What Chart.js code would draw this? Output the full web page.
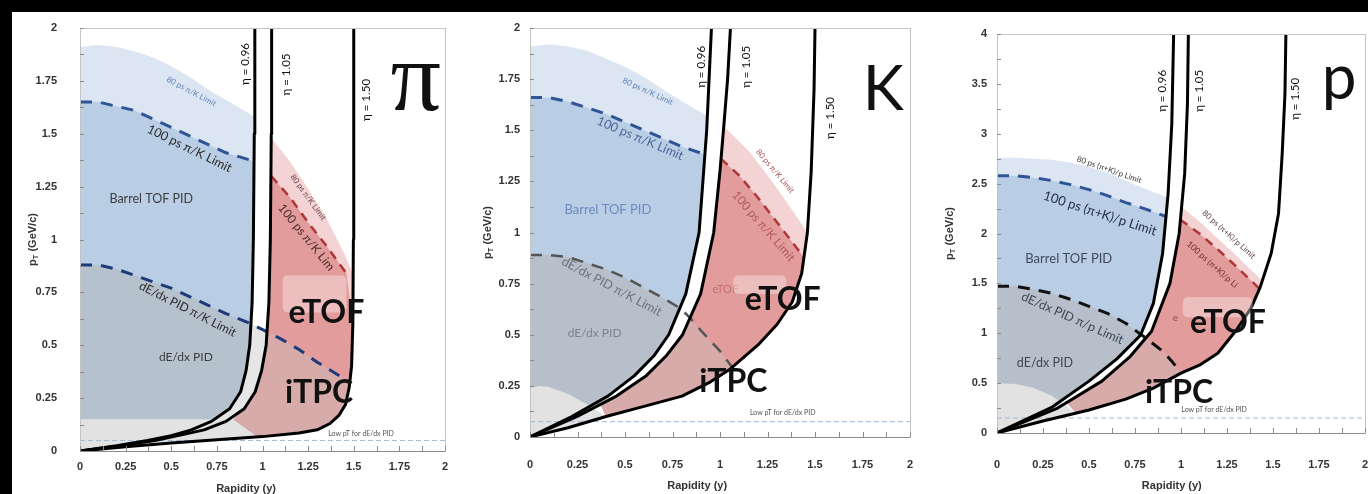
<!DOCTYPE html>
<html><head><meta charset="utf-8">
<script src="https://cdn.jsdelivr.net/npm/chart.js@4.4.1/dist/chart.umd.min.js"></script>
<style>
html,body{margin:0;padding:0;background:#fff;width:1368px;height:494px;overflow:hidden;position:relative}
.blk{position:absolute;background:#000}
canvas{position:absolute}
</style></head><body>
<div class="blk" style="left:0;top:0;width:1368px;height:12px"></div>
<div class="blk" style="left:0;top:0;width:12px;height:494px"></div>
<canvas id="cPi" width="444" height="482" style="left:12px;top:12px"></canvas>
<canvas id="cK" width="480" height="482" style="left:456px;top:12px"></canvas>
<canvas id="cP" width="480" height="482" style="left:912px;top:12px"></canvas>
<script>
// ================= DATA (x = rapidity y, y = pT in GeV/c) =================
// ---- tick labels ----
const xTickLabels = ['0','0.25','0.5','0.75','1','1.25','1.5','1.75','2'];
const piYTickLabels = ['0','0.25','0.5','0.75','1','1.25','1.5','1.75','2'];
const kYTickLabels = ['0','0.25','0.5','0.75','1','1.25','1.5','1.75','2'];
const pYTickLabels = ['0','0.5','1','1.5','2','2.5','3','3.5','4'];

// ---- pion panel ----
const piEta096 = [[0,0],[0.2,0.025],[0.37,0.05],[0.5,0.072],[0.61,0.1],[0.72,0.14],[0.82,0.2],[0.88,0.28],[0.91,0.38],[0.93,0.5],[0.943,0.7],[0.95,1.0],[0.955,1.5],[0.958,2.0]];
const piEta105 = [[0,0],[0.2,0.022],[0.41,0.05],[0.55,0.075],[0.68,0.1],[0.8,0.14],[0.9,0.2],[0.96,0.28],[0.995,0.38],[1.02,0.5],[1.035,0.7],[1.043,1.0],[1.048,1.5],[1.05,2.0]];
const piEta150 = [[0,0],[0.25,0.02],[0.5,0.038],[0.75,0.053],[1.0,0.068],[1.2,0.085],[1.3,0.1],[1.37,0.13],[1.42,0.17],[1.455,0.22],[1.475,0.3],[1.488,0.4],[1.495,0.6],[1.498,1.0],[1.5,2.0]];
const piTof80 = [[0,1.91],[0.1,1.92],[0.2,1.91],[0.3,1.89],[0.4,1.86],[0.5,1.82],[0.6,1.77],[0.7,1.71],[0.8,1.66],[0.9,1.61],[0.955,1.58]];
const piTof100 = [[0,1.65],[0.1,1.65],[0.2,1.63],[0.3,1.61],[0.4,1.57],[0.5,1.53],[0.6,1.49],[0.7,1.45],[0.8,1.41],[0.955,1.37]];
const piDedx = [[0,0.88],[0.1,0.88],[0.2,0.86],[0.3,0.83],[0.4,0.8],[0.5,0.77],[0.6,0.73],[0.7,0.69],[0.8,0.65],[0.94,0.6],[1.04,0.557],[1.1,0.53],[1.2,0.48],[1.3,0.42],[1.45,0.34]];
const piEtof80 = [[1.048,1.48],[1.15,1.37],[1.25,1.24],[1.35,1.1],[1.45,0.93],[1.498,0.83]];
const piEtof100 = [[1.048,1.3],[1.15,1.2],[1.25,1.08],[1.35,0.97],[1.46,0.84]];
const piBandTop = [[0,0.15],[0.86,0.15],[0.98,0.068]];
const piCut = [[0.84,0.15],[0.97,0.068]];
const piDedxSplit = [0.94, 1.04];
const piLowPt = 0.05;
const piBox = [[1.11,0.655],[1.46,0.83]];

// ---- kaon panel ----
const kEta096 = [[0,0],[0.22,0.1],[0.41,0.2],[0.55,0.3],[0.655,0.4],[0.73,0.5],[0.82,0.7],[0.89,1.0],[0.93,1.5],[0.955,2.0]];
const kEta105 = [[0,0],[0.246,0.1],[0.455,0.2],[0.612,0.3],[0.72,0.4],[0.803,0.5],[0.898,0.7],[0.967,1.0],[1.0,1.3],[1.02,1.52],[1.04,1.75],[1.055,2.0]];
const kEta150 = [[0,0],[0.2,0.045],[0.4,0.1],[0.6,0.15],[0.8,0.2],[0.95,0.27],[1.05,0.33],[1.2,0.45],[1.3,0.55],[1.38,0.66],[1.43,0.8],[1.46,1.0],[1.48,1.3],[1.495,1.7],[1.5,2.0]];
const kTof80 = [[0,1.91],[0.1,1.92],[0.2,1.91],[0.3,1.89],[0.4,1.85],[0.5,1.81],[0.6,1.76],[0.7,1.7],[0.8,1.64],[0.935,1.57]];
const kTof100 = [[0,1.66],[0.1,1.66],[0.2,1.64],[0.3,1.61],[0.4,1.58],[0.5,1.54],[0.6,1.5],[0.7,1.46],[0.8,1.42],[0.925,1.38]];
const kDedx = [[0,0.89],[0.1,0.89],[0.2,0.88],[0.3,0.85],[0.4,0.82],[0.5,0.78],[0.6,0.73],[0.7,0.68],[0.79,0.63],[0.845,0.58],[0.9,0.52],[1.0,0.42],[1.065,0.34]];
const kEtof80 = [[1.02,1.52],[1.15,1.4],[1.25,1.28],[1.35,1.15],[1.46,1.0]];
const kEtof100 = [[1.005,1.36],[1.1,1.28],[1.2,1.17],[1.3,1.05],[1.44,0.88]];
const kHump = [[0,0.24],[0.05,0.25],[0.1,0.245],[0.2,0.21],[0.3,0.16],[0.4,0.1]];
const kCut = [[0.37,0.16],[0.4,0.1]];
const kDedxSplit = [0.79, 0.845];
const kLowPt = 0.075;
const kBox = [[1.07,0.70],[1.35,0.79]];

// ---- proton panel ----
const pEta096 = [[0,0],[0.3,0.26],[0.5,0.52],[0.65,0.74],[0.78,0.98],[0.85,1.3],[0.9,1.8],[0.93,2.4],[0.95,3.1],[0.96,4.0]];
const pEta105 = [[0,0],[0.33,0.25],[0.57,0.52],[0.72,0.76],[0.84,1.02],[0.94,1.5],[0.99,2.0],[1.02,2.6],[1.035,3.3],[1.04,4.0]];
const pEta150 = [[0,0],[0.25,0.12],[0.5,0.23],[0.7,0.34],[0.85,0.45],[1.0,0.6],[1.1,0.68],[1.2,0.8],[1.3,1.03],[1.38,1.25],[1.43,1.46],[1.49,1.8],[1.53,2.2],[1.55,2.8],[1.565,3.4],[1.57,4.0]];
const pTof80 = [[0,2.76],[0.1,2.76],[0.2,2.75],[0.3,2.74],[0.4,2.71],[0.5,2.67],[0.6,2.61],[0.7,2.53],[0.8,2.45],[0.928,2.36]];
const pTof100 = [[0,2.58],[0.1,2.58],[0.2,2.56],[0.3,2.53],[0.4,2.49],[0.5,2.44],[0.6,2.38],[0.7,2.31],[0.8,2.25],[0.92,2.17]];
const pDedx = [[0,1.47],[0.1,1.47],[0.2,1.44],[0.3,1.4],[0.4,1.34],[0.5,1.27],[0.6,1.2],[0.7,1.1],[0.78,0.99],[0.8,0.965],[0.9,0.82],[0.95,0.72],[1.0,0.6]];
const pEtof80 = [[1.0,2.27],[1.1,2.12],[1.2,1.95],[1.3,1.78],[1.4,1.6],[1.445,1.52]];
const pEtof100 = [[0.995,2.14],[1.1,2.0],[1.2,1.84],[1.3,1.67],[1.43,1.44]];
const pHump = [[0,0.5],[0.1,0.49],[0.2,0.45],[0.3,0.37],[0.43,0.2]];
const pCut = [[0.38,0.3],[0.43,0.2]];
const pDedxSplit = [0.78, 0.8];
const pLowPt = 0.15;
const pBox = [[1.01,1.16],[1.39,1.36]];

// ---- labels (text, data position) ----
const piTexts = [
 {t:'80 ps π/K Limit', x:0.61, y:1.70, r:28, s:8, c:'#5f82b8'},
 {t:'100 ps π/K Limit', x:0.60, y:1.43, r:26, s:12.5, c:'#2b2b2b'},
 {t:'Barrel TOF PID', x:0.39, y:1.19, r:0, s:12.5, c:'#3d3d3d'},
 {t:'dE/dx PID π/K Limit', x:0.59, y:0.67, r:27, s:12, c:'#2b2b2b'},
 {t:'dE/dx PID', x:0.58, y:0.445, r:0, s:12, c:'#3d3d3d'},
 {t:'80 ps π/K Limit', x:1.25, y:1.20, r:54, s:8, c:'#6b4545'},
 {t:'100 ps π/K Lim', x:1.24, y:1.01, r:51, s:12, c:'#4a2a2a'},
 {t:'Low pT for dE/dx PID', x:1.54, y:0.08, r:0, s:7, c:'#555'},
 {t:'η = 0.96', x:0.905, y:1.83, r:-90, s:11.5, c:'#111'},
 {t:'η = 1.05', x:1.13, y:1.78, r:-90, s:11.5, c:'#111'},
 {t:'η = 1.50', x:1.57, y:1.66, r:-90, s:11.5, c:'#111'}
];
const piBig = [
 {t:'eTOF', x:1.35, y:0.655, s:32, w:'bold', c:'#111'},
 {t:'iTPC', x:1.31, y:0.275, s:32, w:'bold', c:'#111'},
 {t:'π', x:1.84, y:1.61, s:100, c:'#111', f:"'Liberation Serif', serif", base:'alphabetic'}
];
const kTexts = [
 {t:'80 ps π/K Limit', x:0.62, y:1.69, r:25, s:8, c:'#5f82b8'},
 {t:'100 ps π/K Limit', x:0.58, y:1.46, r:23, s:12.5, c:'#4a6898'},
 {t:'Barrel TOF PID', x:0.41, y:1.11, r:0, s:13, c:'#6a8cc0'},
 {t:'dE/dx PID π/K Limit', x:0.43, y:0.735, r:28, s:12.5, c:'#6e737c'},
 {t:'dE/dx PID', x:0.34, y:0.51, r:0, s:12, c:'#7c8490'},
 {t:'80 ps π/K Limit', x:1.29, y:1.30, r:50, s:8, c:'#a85656'},
 {t:'100 ps π/K Limit', x:1.23, y:1.03, r:49, s:12, c:'#b05a5a'},
 {t:'eTOF', x:0.96, y:0.72, r:0, s:11, c:'#c47070', align:'left'},
 {t:'Low pT for dE/dx PID', x:1.33, y:0.12, r:0, s:7, c:'#555'},
 {t:'η = 0.96', x:0.90, y:1.81, r:-90, s:11.5, c:'#111'},
 {t:'η = 1.05', x:1.14, y:1.81, r:-90, s:11.5, c:'#111'},
 {t:'η = 1.50', x:1.58, y:1.56, r:-90, s:11.5, c:'#111'}
];
const kBig = [
 {t:'eTOF', x:1.33, y:0.67, s:32, w:'bold', c:'#111'},
 {t:'iTPC', x:1.07, y:0.27, s:32, w:'bold', c:'#111'},
 {t:'K', x:1.86, y:1.60, s:62, c:'#111', base:'alphabetic'}
];
const pTexts = [
 {t:'80 ps (π+K)/p Limit', x:0.61, y:2.64, r:19, s:8, c:'#3a3a3a'},
 {t:'100 ps (π+K)/p Limit', x:0.56, y:2.20, r:18, s:13, c:'#24304a'},
 {t:'Barrel TOF PID', x:0.39, y:1.75, r:0, s:13, c:'#404b5c'},
 {t:'dE/dx PID π/p Limit', x:0.41, y:1.15, r:24, s:12.5, c:'#3f4858'},
 {t:'dE/dx PID', x:0.26, y:0.70, r:0, s:12.5, c:'#3f4858'},
 {t:'80 ps (π+K)/p Limit', x:1.26, y:1.99, r:42, s:8, c:'#5a3a3a'},
 {t:'100 ps (π+K)/p Li', x:1.17, y:1.69, r:42, s:8.5, c:'#6a3030'},
 {t:'e', x:0.97, y:1.16, r:0, s:10, c:'#a04848'},
 {t:'Low pT for dE/dx PID', x:1.18, y:0.23, r:0, s:7, c:'#555'},
 {t:'η = 0.96', x:0.90, y:3.43, r:-90, s:11.5, c:'#111'},
 {t:'η = 1.05', x:1.10, y:3.43, r:-90, s:11.5, c:'#111'},
 {t:'η = 1.50', x:1.62, y:3.35, r:-90, s:11.5, c:'#111'}
];
const pBig = [
 {t:'eTOF', x:1.255, y:1.11, s:32, w:'bold', c:'#111'},
 {t:'iTPC', x:0.99, y:0.40, s:32, w:'bold', c:'#111'},
 {t:'p', x:1.86, y:3.35, s:62, c:'#111', base:'alphabetic'}
];

// ================= helpers =================
const C = {
  lightBlue:'#dce6f2', midBlue:'#b9cde5', dedx:'#b6c1ce', dedxK:'#b7bfca',
  lightGray:'#e2e2e2', gap:'#e6e6e6', pink:'#f3d3d3', red:'#e39c9c', muted:'#d8abab',
  blueDash:'#2f5597', navyDash:'#1f3a7a', redDash:'#b03535', lowPt:'#9fb7da'
};
function region(left, top, right, cut) {
  const y0 = top[0][1], y1 = top[top.length-1][1];
  const lo0 = cut ? cut[0][1] : -1, lo1 = cut ? cut[cut.length-1][1] : -1;
  const l = left.filter(p => p[1] < y0 && p[1] > lo0);
  const r = right.filter(p => p[1] < y1 && p[1] > lo1).reverse();
  return [...(cut ? [cut[0]] : []), ...l, ...top, ...r, ...(cut ? cut.slice(1).reverse() : [])];
}
const ORIGIN = [[0,0]];

function makePanel(id, P) {
  const layers = [];
  const toXY = a => a.map(([x,y]) => ({x, y}));
  const shape = (pts, color) => layers.push({data: toXY(pts), fill:'shape', backgroundColor:color, borderColor:'rgba(0,0,0,0)', borderWidth:0, pointRadius:0, tension:0});
  const line = (pts, color, w, dash) => layers.push({data: toXY(pts), fill:false, borderColor:color, borderWidth:w, borderDash:dash||[], pointRadius:0, tension:0, borderCapStyle:'butt', borderJoinStyle:'round'});

  const dLeft = P.dedx.filter(p => p[0] <= P.split[0]);
  const dMid = P.dedx.filter(p => p[0] >= P.split[0] && p[0] <= P.split[1]);
  const dRight = P.dedx.filter(p => p[0] >= P.split[1]);

  shape(region(ORIGIN, P.tof80, P.eta096), C.lightBlue);
  shape(region(ORIGIN, P.tof100, P.eta096), C.midBlue);
  shape(region(ORIGIN, dLeft, P.eta096), P.dedxColor);
  if (P.gapFill) shape(region(P.eta096, dMid, P.eta105), C.gap);
  shape(region(ORIGIN, P.band, P.eta150), C.lightGray);
  shape(region(P.eta105, P.etof80, P.eta150, P.cut), C.pink);
  shape(region(P.eta105, P.etof100, P.eta150, P.cut), C.red);
  shape(region(P.eta105, dRight, P.eta150, P.cut), C.muted);
  line(P.tof100, C.blueDash, 3, [12,9]);
  line(P.dedx, P.dedxDash, P.dedxW, [12,9]);
  line(P.etof100, C.redDash, 2.5, [9,7]);
  line([[0,P.lowPt],[2,P.lowPt]], C.lowPt, 1, [5,3]);
  line(P.eta096, '#000', 3);
  line(P.eta105, '#000', 3);
  line(P.eta150, '#000', 3);

  const N = layers.length;
  layers.forEach((d, i) => { d.order = N - i; });

  const TICKFONT = {family:"'Liberation Sans', Arial, sans-serif", size:11, weight:'bold'};
  const drawText = (ctx, chart, a) => {
    const px = chart.scales.x.getPixelForValue(a.x), py = chart.scales.y.getPixelForValue(a.y);
    ctx.save();
    ctx.translate(px, py);
    ctx.rotate((a.r || 0) * Math.PI / 180);
    ctx.font = `${a.w || 'normal'} ${a.s}px ${a.f || "Lato, 'Open Sans', sans-serif"}`;
    ctx.fillStyle = a.c || '#222';
    ctx.textAlign = a.align || 'center';
    ctx.textBaseline = a.base || 'middle';
    ctx.fillText(a.t, 0, 0);
    ctx.restore();
  };
  const deco = {
    id: 'deco' + id,
    afterDatasetsDraw(chart) {
      const {ctx, chartArea: ca, scales: {x, y}} = chart;
      ctx.save();
      ctx.strokeStyle = '#c4c4c4'; ctx.lineWidth = 1;
      ctx.strokeRect(Math.round(ca.left) + 0.5, Math.round(ca.top) + 0.5, Math.round(ca.right - ca.left), Math.round(ca.bottom - ca.top));
      ctx.strokeStyle = '#8c8c8c';
      ctx.beginPath(); ctx.moveTo(ca.left, Math.round(ca.bottom) + 0.5); ctx.lineTo(ca.right, Math.round(ca.bottom) + 0.5); ctx.stroke();
      ctx.beginPath();
      for (let v = 0; v <= 2.0001; v += 0.125) { const px = Math.round(x.getPixelForValue(v)) + 0.5; ctx.moveTo(px, ca.bottom); ctx.lineTo(px, ca.bottom - 5); }
      for (let v = 0; v <= P.yMax + 1e-6; v += P.yStep / 2) { const py = Math.round(y.getPixelForValue(v)) + 0.5; ctx.moveTo(ca.left, py); ctx.lineTo(ca.left + 4, py); }
      ctx.stroke();
      ctx.restore();
      P.texts.forEach(a => drawText(ctx, chart, a));
      const bx0 = x.getPixelForValue(P.box[0][0]), bx1 = x.getPixelForValue(P.box[1][0]);
      const by0 = y.getPixelForValue(P.box[1][1]), by1 = y.getPixelForValue(P.box[0][1]);
      ctx.save();
      ctx.fillStyle = 'rgba(255,255,255,0.35)';
      ctx.beginPath();
      if (ctx.roundRect) ctx.roundRect(bx0, by0, bx1 - bx0, by1 - by0, 5); else ctx.rect(bx0, by0, bx1 - bx0, by1 - by0);
      ctx.fill();
      ctx.restore();
      P.big.forEach(a => drawText(ctx, chart, a));
      ctx.save();
      ctx.fillStyle = '#333';
      ctx.font = "bold 11px 'Liberation Sans', Arial, sans-serif";
      ctx.textAlign = 'center'; ctx.textBaseline = 'middle';
      ctx.fillText('Rapidity (y)', x.getPixelForValue(P.xTitleAt), P.xTitleY);
      ctx.translate(P.yTitleX, (ca.top + ca.bottom) / 2);
      ctx.rotate(-Math.PI / 2);
      const parts = [['p', "bold 11px 'Liberation Sans', Arial, sans-serif", 0], ['T', "bold 7.5px 'Liberation Sans', Arial, sans-serif", 3], [' (GeV/c)', "bold 11px 'Liberation Sans', Arial, sans-serif", 0]];
      let w = 0; parts.forEach(p => { ctx.font = p[1]; w += ctx.measureText(p[0]).width; });
      let cx = -w / 2; ctx.textAlign = 'left';
      parts.forEach(p => { ctx.font = p[1]; ctx.fillText(p[0], cx, p[2]); cx += ctx.measureText(p[0]).width; });
      ctx.restore();
    }
  };

  new Chart(document.getElementById(id), {
    type: 'line',
    data: {datasets: layers},
    options: {
      responsive: false, animation: false, devicePixelRatio: 1, events: [],
      layout: {padding: {left: 0, top: P.padTop, right: P.padRight, bottom: 0}},
      plugins: {legend: {display: false}, tooltip: {enabled: false}},
      scales: {
        x: {type: 'linear', min: 0, max: 2,
            ticks: {stepSize: 0.25, padding: P.xTickPad, font: TICKFONT, color: '#333', autoSkip: false, maxRotation: 0,
                    callback: (v, i) => xTickLabels[i]},
            grid: {display: false, drawTicks: false}, border: {display: false},
            afterFit: s => { s.height = P.xAxisH; s.paddingLeft = 4; s.paddingRight = 4; }},
        y: {type: 'linear', min: 0, max: P.yMax,
            ticks: {stepSize: P.yStep, padding: P.yTickPad, font: TICKFONT, color: '#333', autoSkip: false,
                    callback: (v, i) => P.yLabels[i]},
            grid: {display: false, drawTicks: false}, border: {display: false},
            afterFit: s => { s.width = P.yAxisW; s.paddingTop = 7; s.paddingBottom = 7; }}
      }
    },
    plugins: [deco]
  });
}

makePanel('cPi', {
  eta096: piEta096, eta105: piEta105, eta150: piEta150, tof80: piTof80, tof100: piTof100,
  dedx: piDedx, split: piDedxSplit, etof80: piEtof80, etof100: piEtof100, band: piBandTop, cut: piCut,
  lowPt: piLowPt, box: piBox, texts: piTexts, big: piBig, gapFill: true, yLabels: piYTickLabels,
  dedxColor: C.dedx, dedxDash: C.navyDash, dedxW: 3,
  yMax: 2, yStep: 0.25, padTop: 16, padRight: 11, yAxisW: 68, xAxisH: 43, xTickPad: 9, yTickPad: 23,
  yTitleX: 21, xTitleY: 477, xTitleAt: 0.91
});
makePanel('cK', {
  eta096: kEta096, eta105: kEta105, eta150: kEta150, tof80: kTof80, tof100: kTof100,
  dedx: kDedx, split: kDedxSplit, etof80: kEtof80, etof100: kEtof100, band: kHump, cut: kCut,
  lowPt: kLowPt, box: kBox, texts: kTexts, big: kBig, gapFill: false, yLabels: kYTickLabels,
  dedxColor: C.dedxK, dedxDash: '#555', dedxW: 2.5,
  yMax: 2, yStep: 0.25, padTop: 16, padRight: 26, yAxisW: 74, xAxisH: 57, xTickPad: 21, yTickPad: 10,
  yTitleX: 32, xTitleY: 474, xTitleAt: 0.88
});
makePanel('cP', {
  eta096: pEta096, eta105: pEta105, eta150: pEta150, tof80: pTof80, tof100: pTof100,
  dedx: pDedx, split: pDedxSplit, etof80: pEtof80, etof100: pEtof100, band: pHump, cut: pCut,
  lowPt: pLowPt, box: pBox, texts: pTexts, big: pBig, gapFill: false, yLabels: pYTickLabels,
  dedxColor: C.dedxK, dedxDash: '#111', dedxW: 3,
  yMax: 4, yStep: 0.5, padTop: 22, padRight: 27, yAxisW: 85, xAxisH: 61, xTickPad: 25, yTickPad: 10,
  yTitleX: 38, xTitleY: 474, xTitleAt: 0.95
});
</script>
</body></html>
